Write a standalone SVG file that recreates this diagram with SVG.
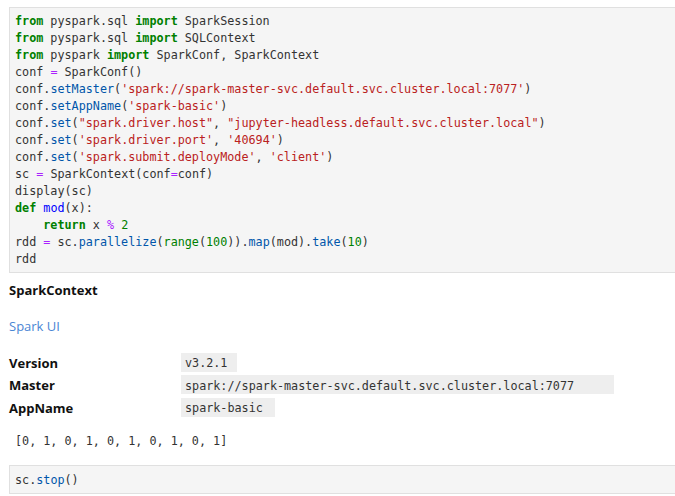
<svg xmlns="http://www.w3.org/2000/svg" width="675" height="496" viewBox="0 0 675 496">
<style>
.c{font-family:"DejaVu Sans Mono","Liberation Mono",monospace;font-size:11.75px;fill:#333;white-space:pre}
.k{fill:#008000;font-weight:bold}.s{fill:#BA2121}.o{fill:#AA22FF}.f{fill:#0000FF}.m{fill:#0055AA}.n{fill:#008000}
.b{font-family:"Open Sans","Liberation Sans",sans-serif;font-size:13px;font-weight:bold;fill:#111}
.box{fill:#f5f5f5;stroke:#e0e0e0}
</style>
<rect width="675" height="496" fill="#fff"/>
<g id="cell1">
<rect class="box" x="9.5" y="7.5" width="670" height="265"/>
<text class="c" x="15" y="25"><tspan class="k">from</tspan> pyspark.sql <tspan class="k">import</tspan> SparkSession</text>
<text class="c" x="15" y="42"><tspan class="k">from</tspan> pyspark.sql <tspan class="k">import</tspan> SQLContext</text>
<text class="c" x="15" y="59"><tspan class="k">from</tspan> pyspark <tspan class="k">import</tspan> SparkConf, SparkContext</text>
<text class="c" x="15" y="76">conf <tspan class="o">=</tspan> SparkConf()</text>
<text class="c" x="15" y="93">conf.<tspan class="m">setMaster</tspan>(<tspan class="s">'spark://spark-master-svc.default.svc.cluster.local:7077'</tspan>)</text>
<text class="c" x="15" y="110">conf.<tspan class="m">setAppName</tspan>(<tspan class="s">'spark-basic'</tspan>)</text>
<text class="c" x="15" y="127">conf.<tspan class="m">set</tspan>(<tspan class="s">"spark.driver.host"</tspan>, <tspan class="s">"jupyter-headless.default.svc.cluster.local"</tspan>)</text>
<text class="c" x="15" y="144">conf.<tspan class="m">set</tspan>(<tspan class="s">'spark.driver.port'</tspan>, <tspan class="s">'40694'</tspan>)</text>
<text class="c" x="15" y="161">conf.<tspan class="m">set</tspan>(<tspan class="s">'spark.submit.deployMode'</tspan>, <tspan class="s">'client'</tspan>)</text>
<text class="c" x="15" y="178">sc <tspan class="o">=</tspan> SparkContext(conf<tspan class="o">=</tspan>conf)</text>
<text class="c" x="15" y="195">display(sc)</text>
<text class="c" x="15" y="212"><tspan class="k">def</tspan> <tspan class="f">mod</tspan>(x):</text>
<text class="c" x="15" y="229">    <tspan class="k">return</tspan> x <tspan class="o">%</tspan> <tspan class="n">2</tspan></text>
<text class="c" x="15" y="246">rdd <tspan class="o">=</tspan> sc.<tspan class="m">parallelize</tspan>(<tspan class="n" style="font-weight:normal">range</tspan>(<tspan class="n">100</tspan>)).<tspan class="m">map</tspan>(mod).<tspan class="m">take</tspan>(<tspan class="n">10</tspan>)</text>
<text class="c" x="15" y="263">rdd</text>
</g>
<g id="output">
<text class="b" x="9" y="295">SparkContext</text>
<text x="9" y="331" style="font-family:'Open Sans','Liberation Sans',sans-serif;font-size:13px;fill:#4a86d4">Spark UI</text>
<text class="b" x="9" y="368">Version</text>
<text class="b" x="9" y="390">Master</text>
<text class="b" x="9" y="413">AppName</text>
<rect x="181" y="353" width="56" height="19" fill="#eee"/>
<rect x="181" y="375" width="433" height="19" fill="#eee"/>
<rect x="181" y="398" width="94" height="19" fill="#eee"/>
<text class="c" x="185" y="367">v3.2.1</text>
<text class="c" x="185" y="390">spark://spark-master-svc.default.svc.cluster.local:7077</text>
<text class="c" x="185" y="412">spark-basic</text>
<text class="c" x="15" y="445">[0, 1, 0, 1, 0, 1, 0, 1, 0, 1]</text>
</g>
<g id="cell2">
<rect class="box" x="9.5" y="465.5" width="670" height="28"/>
<text class="c" x="15" y="484">sc.<tspan class="m">stop</tspan>()</text>
</g>
</svg>
